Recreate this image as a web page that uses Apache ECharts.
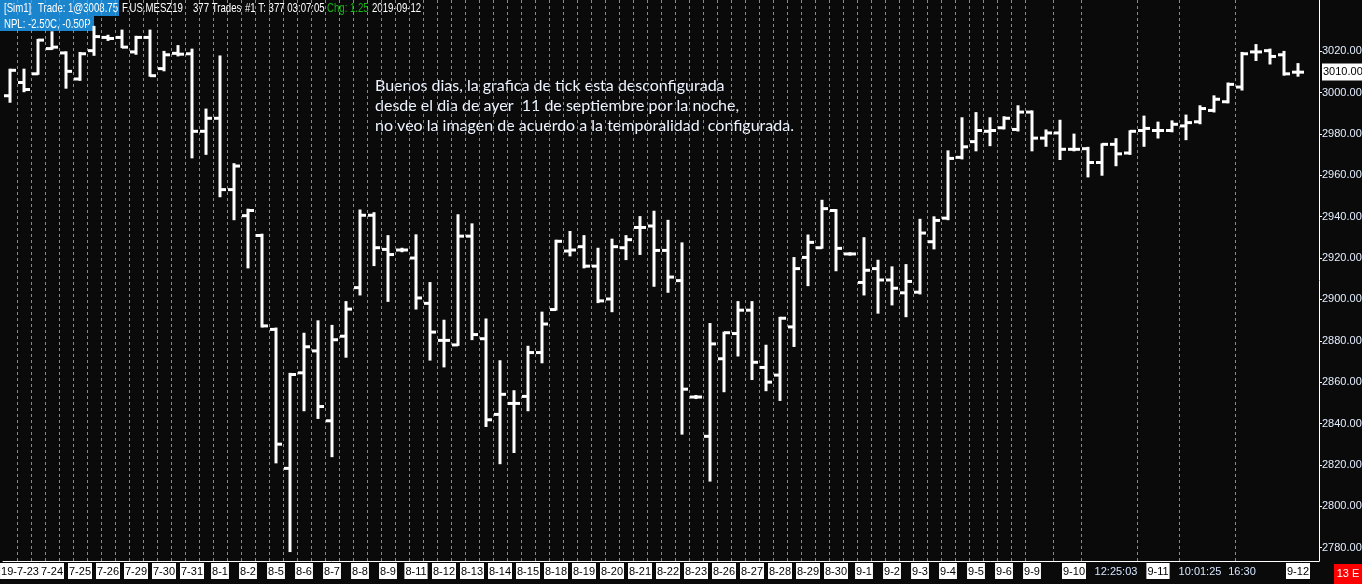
<!DOCTYPE html>
<html>
<head>
<meta charset="utf-8">
<title>F.US.MESZ19 - 377 Trades</title>
<script src="https://cdn.jsdelivr.net/npm/echarts@6.0.0/dist/echarts.min.js"></script>
<style>
  html, body { margin: 0; padding: 0; background: #0a0a0a; }
  #chart { width: 1362px; height: 584px; }
</style>
</head>
<body>
<div id="chart"></div>
<script>
// OHLC of each 377-trade bar
var opens = [2998.5, 3004.9, 3009.1, 3021.3, 3019.2, 3006.6, 3020.3, 3026.7, 3026.7, 3019.7,
  3026.7, 3011.6, 3019, 3018.8, 2981.3, 2987.6, 2953.1, 2940.5, 2930.9, 2885.5,
  2818.3, 2864.5, 2875.1, 2841.3, 2882.2, 2905.7, 2940.7, 2924.2, 2923.9, 2920,
  2898.1, 2880.2, 2878, 2930.6, 2881, 2844.4, 2849.7, 2853.1, 2874.3, 2895.1,
  2923.4, 2925.5, 2916.1, 2900.2, 2925, 2934.8, 2935.5, 2923.7, 2909.1, 2852.8,
  2833.8, 2871.3, 2883.5, 2894.8, 2867.1, 2863.4, 2886.7, 2920.3, 2925, 2943,
  2922, 2908.2, 2914.9, 2909.4, 2903.2, 2903.5, 2927.9, 2939.3, 2968.7, 2976.3,
  2981.3, 2983, 2982.2, 2990.6, 2978, 2980.5, 2972.6, 2972.9, 2966.2, 2975,
  2970.8, 2981.7, 2981.7, 2981.7, 2983.9, 2985.9, 2991.4, 2995.6, 3002.7, 3019.7,
  3020.3, 3018.3, 3009.9];
var highs = [3011.1, 3011.1, 3025.5, 3029.2, 3019.5, 3019.2, 3031.8, 3027.5, 3030, 3027,
  3030, 3019.7, 3022.5, 3020.8, 2991.8, 3017.5, 2965.4, 2943.4, 2931.3, 2885.9,
  2864, 2883.4, 2889.4, 2887.2, 2898.7, 2943, 2941.7, 2930.6, 2924.5, 2931,
  2907.9, 2889.7, 2940.7, 2936.3, 2890.3, 2870.1, 2855.6, 2877.1, 2893.6, 2928.4,
  2932.6, 2930.6, 2924.5, 2928.9, 2930.6, 2939.8, 2942.4, 2938, 2927.1, 2853.3,
  2888.1, 2883.9, 2898.7, 2898.7, 2877.6, 2891.1, 2920, 2930.9, 2947.7, 2943.2,
  2922.3, 2929.6, 2918.7, 2915.5, 2916.6, 2938.5, 2939.7, 2971.6, 2987.6, 2990.1,
  2987.6, 2988.1, 2993.4, 2990.9, 2981.7, 2986.4, 2979.7, 2973.3, 2975, 2977.5,
  2981.3, 2988.4, 2985.5, 2986.1, 2988.9, 2993.4, 2998.2, 3004.4, 3019.2, 3023,
  3020.8, 3019.7, 3013.8];
var lows = [2995.6, 3000.7, 3009.1, 3021.2, 3002.4, 3006.2, 3018.3, 3025.5, 3022, 3018.8,
  3008.2, 3010.8, 3018, 2968.7, 2970.4, 2949.9, 2938.8, 2915.5, 2886.9, 2821.2,
  2778.3, 2846.4, 2842.7, 2824.2, 2872.3, 2902.4, 2916.6, 2899.3, 2923.3, 2895.6,
  2870.9, 2867.6, 2878, 2880.8, 2838.8, 2820.8, 2826.2, 2846.4, 2869.6, 2895.1,
  2921.3, 2915.5, 2898.7, 2894.3, 2919.5, 2922, 2906.6, 2903.7, 2835.1, 2852.3,
  2812.4, 2855.6, 2872.9, 2861.5, 2856.1, 2851.4, 2877.5, 2906.9, 2925, 2914.1,
  2921.7, 2902.4, 2893.6, 2897.6, 2891.9, 2902.9, 2924.7, 2938.8, 2968.2, 2972.1,
  2974.6, 2982.7, 2981.7, 2972.1, 2974.3, 2967.9, 2972.1, 2959.5, 2960.3, 2964.9,
  2970.4, 2974.3, 2978.3, 2981.3, 2977.5, 2985.2, 2990.9, 2995.3, 3001.5, 3015.8,
  3014.1, 3008.7, 3008.2];
var closes = [3010.8, 3001.5, 3025.4, 3022, 3010.3, 3018.8, 3027.1, 3026.2, 3022, 3026.7,
  3008.2, 3018.3, 3018.6, 2981.3, 2987.6, 2953.1, 2964.5, 2943, 2887.2, 2830,
  2863.7, 2877.1, 2848.2, 2880.5, 2895.3, 2940.7, 2925, 2921.7, 2923.9, 2900.7,
  2884.2, 2880.2, 2930.6, 2883, 2841.8, 2854.1, 2849.7, 2874.3, 2888.1, 2928.1,
  2923.9, 2916.1, 2899.3, 2925.5, 2928.9, 2934.8, 2923.7, 2910.8, 2856.6, 2852.8,
  2878.5, 2883.9, 2894.8, 2869.6, 2860, 2890.9, 2914.9, 2927.6, 2943.9, 2924.7,
  2922, 2914.1, 2909.4, 2905.4, 2908.7, 2932.1, 2938.2, 2968.2, 2973.8, 2981.7,
  2981.7, 2987.6, 2990.6, 2978, 2980.5, 2972.6, 2972.6, 2966.2, 2975, 2970.4,
  2981.3, 2982.7, 2981.7, 2984.7, 2985.5, 2992.3, 2996.8, 3004, 3018.8, 3019.7,
  3017.5, 3009.1, 3009.9];

// session labels on the time axis and the bar each one sits under
var labelNames = ['19-7-23', '7-24', '7-25', '7-26', '7-29', '7-30', '7-31', '8-1', '8-2', '8-5',
  '8-6', '8-7', '8-8', '8-9', '8-11', '8-12', '8-13', '8-14', '8-15', '8-18',
  '8-19', '8-20', '8-21', '8-22', '8-23', '8-26', '8-27', '8-28', '8-29', '8-30',
  '9-1', '9-2', '9-3', '9-4', '9-5', '9-6', '9-9', '9-10', '12:25:03', '9-11',
  '10:01:25', '16:30', '9-12'];
var labelBars = [0, 3, 5, 7, 9, 11, 13, 15, 17, 19,
  21, 23, 25, 27, 29, 31, 33, 35, 37, 39,
  41, 43, 45, 47, 49, 51, 53, 55, 57, 59,
  61, 63, 65, 67, 69, 71, 73, 76, 79, 82,
  85, 88, 92];
var timeLabels = ['12:25:03', '10:01:25', '16:30'];

// price scale
var yTicks = [2780, 2800, 2820, 2840, 2860, 2880, 2900, 2920, 2940, 2960, 2980, 3000, 3020];
var lastPrice = 3010;

var slotCount = opens.length + 1; // one empty slot after the last bar
var categories = [];
var xLabels = [];
for (var i = 0; i < slotCount; i++) {
    categories.push(String(i));
    xLabels.push('');
}
for (var j = 0; j < labelNames.length; j++) {
    xLabels[labelBars[j]] = labelNames[j];
}

// dotted separators (left edge of these bars)
var sepBars = [];
for (var k = 1; k <= 73; k++) sepBars.push(k);
sepBars.push(75, 77, 81, 84, 88);

var ohlc = [];
for (var n = 0; n < opens.length; n++) {
    ohlc.push([n, opens[n], highs[n], lows[n], closes[n]]);
}

var SANS = '"Liberation Sans", Arial, sans-serif';

function renderBar(params, api) {
    var idx = api.value(0);
    var o = api.coord([idx, api.value(1)]);
    var h = api.coord([idx, api.value(2)]);
    var l = api.coord([idx, api.value(3)]);
    var c = api.coord([idx, api.value(4)]);
    var st = { stroke: '#ffffff', lineWidth: 3 };
    return {
        type: 'group',
        children: [
            { type: 'line', shape: { x1: h[0], y1: h[1] - 1, x2: l[0], y2: l[1] + 1 }, style: st },
            { type: 'line', shape: { x1: o[0] - 6, y1: o[1], x2: o[0], y2: o[1] }, style: st },
            { type: 'line', shape: { x1: c[0], y1: c[1], x2: c[0] + 6, y2: c[1] }, style: st }
        ]
    };
}

// header text, squeezed to look like the narrow platform font
function headText(x, y, s, color) {
    return {
        type: 'text', x: x, y: y, scaleX: 0.74,
        style: { text: s, fill: color || '#ffffff', font: '13px ' + SANS, verticalAlign: 'middle' }
    };
}

var chart = echarts.init(document.getElementById('chart'));
chart.setOption({
    animation: false,
    backgroundColor: '#0a0a0a',
    grid: { left: 3, right: 43, top: 0, bottom: 23, outerBoundsMode: 'none', containLabel: false },
    xAxis: {
        type: 'category',
        data: categories,
        boundaryGap: true,
        axisLine: { lineStyle: { color: '#ffffff', width: 1 } },
        axisTick: {
            alignWithLabel: true,
            length: 3,
            lineStyle: { color: '#ffffff' },
            interval: function (i) { return xLabels[i] !== ''; }
        },
        axisLabel: {
            interval: function (i) { return xLabels[i] !== ''; },
            margin: 3,
            fontFamily: SANS,
            fontSize: 11,
            formatter: function (v, i) {
                var s = xLabels[i];
                if (timeLabels.indexOf(s) >= 0) return '{t|' + s + '}';
                if (i === 0) return '{sp|}{d|' + s + '}';
                return '{d|' + s + '}';
            },
            rich: {
                d: { backgroundColor: '#ffffff', color: '#000000', padding: [3, 1, 2, 1], lineHeight: 14, fontFamily: SANS, fontSize: 11 },
                t: { color: '#d6e6ff', padding: [3, 1, 2, 1], lineHeight: 14, fontFamily: SANS, fontSize: 11 },
                sp: { width: 20 }
            }
        },
        splitLine: {
            show: true,
            interval: function (i) { return sepBars.indexOf(i) >= 0; },
            lineStyle: { color: '#8a8a8a', type: [3, 3], width: 1 }
        }
    },
    yAxis: {
        type: 'value',
        position: 'right',
        min: 2773.5,
        max: 3044.8,
        axisLine: { show: true, lineStyle: { color: '#ffffff', width: 1 } },
        axisTick: { show: true, length: 3, lineStyle: { color: '#ffffff' }, customValues: yTicks },
        splitLine: { show: false },
        axisLabel: {
            customValues: yTicks.concat([lastPrice]),
            margin: 3,
            color: '#e4eeff',
            fontFamily: SANS,
            fontSize: 11,
            formatter: function (v) {
                return v === lastPrice ? '{cur|' + v.toFixed(2) + '}' : v.toFixed(2);
            },
            rich: {
                cur: { backgroundColor: '#ffffff', color: '#000000', padding: [3, 1, 3, 1], fontFamily: SANS, fontSize: 11 }
            }
        }
    },
    series: [{
        type: 'custom',
        renderItem: renderBar,
        encode: { x: 0, y: [1, 2, 3, 4] },
        data: ohlc,
        clip: false
    }],
    graphic: [
        { type: 'rect', shape: { x: 0, y: 0, width: 119, height: 16 }, style: { fill: '#1a84cc' } },
        { type: 'rect', shape: { x: 0, y: 16, width: 94, height: 15 }, style: { fill: '#1a84cc' } },
        headText(4, 8, '[Sim1]'),
        headText(38, 8, 'Trade: 1@3008.75'),
        headText(122, 8, 'F.US.MESZ19'),
        headText(193, 8, '377 Trades'),
        headText(245, 8, '#1 T: 377 03:07:05'),
        headText(327, 8, 'Chg: 1.25', '#19b419'),
        headText(372, 8, '2019-09-12'),
        headText(4, 24, 'NPL: -2.50C, -0.50P'),
        {
            type: 'text', x: 375, y: 76,
            style: {
                text: 'Buenos dias, la grafica de tick esta desconfigurada\ndesde el dia de ayer  11 de septiembre por la noche,\nno veo la imagen de acuerdo a la temporalidad  configurada.',
                fill: '#eef4ff', font: '16px Lato, "Open Sans", sans-serif', lineHeight: 20, verticalAlign: 'top'
            }
        },
        { type: 'rect', shape: { x: 1334, y: 564, width: 28, height: 20 }, style: { fill: '#ff0000' } },
        { type: 'text', x: 1348, y: 574, style: { text: '13 E', fill: '#ffffff', font: '11px ' + SANS, align: 'center', verticalAlign: 'middle' } }
    ]
});
</script>
</body>
</html>
